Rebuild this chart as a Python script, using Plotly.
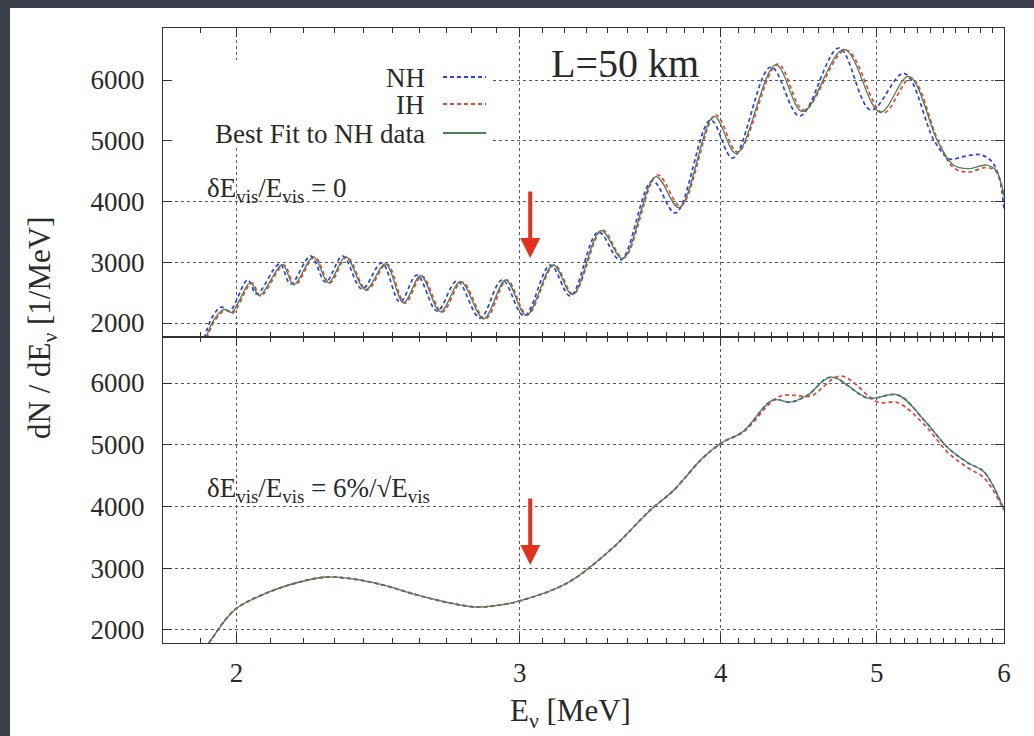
import math
import plotly.graph_objects as go

# ---------------- data ----------------
# Top panel: dE_vis/E_vis = 0
top_e_nh = [1.905, 1.930, 1.957, 1.980, 2.032, 2.058, 2.127, 2.161, 2.224, 2.272,
            2.328, 2.393, 2.462, 2.527, 2.589, 2.665, 2.742, 2.834, 2.925, 3.019,
            3.134, 3.225, 3.357, 3.465, 3.627, 3.749, 3.942, 4.069, 4.297, 4.479,
            4.737, 4.959, 5.200, 5.43, 5.55, 5.66, 5.80, 5.90, 5.96, 6.0]
top_n_nh = [1638, 2082, 2263, 2198, 2708, 2477, 2971, 2642, 3103, 2675,
            3103, 2560, 2988, 2346, 2790, 2198, 2691, 2082, 2708, 2115,
            2955, 2444, 3498, 3037, 4337, 3811, 5341, 4716, 6214, 5407,
            6527, 5506, 6110, 5000, 4700, 4740, 4770, 4650, 4380, 3880]

top_e_ih = [1.910, 1.938, 1.969, 1.989, 2.044, 2.070, 2.140, 2.174, 2.237, 2.285,
            2.342, 2.410, 2.480, 2.545, 2.608, 2.684, 2.762, 2.855, 2.946, 3.032,
            3.152, 3.239, 3.376, 3.480, 3.654, 3.776, 3.971, 4.098, 4.340, 4.505,
            4.785, 5.046, 5.252, 5.46, 5.58, 5.70, 5.85, 5.93, 6.0]
top_n_ih = [1638, 2033, 2214, 2165, 2658, 2444, 2955, 2625, 3086, 2658,
            3086, 2543, 2971, 2329, 2774, 2181, 2675, 2066, 2708, 2132,
            2955, 2477, 3531, 3070, 4436, 3926, 5424, 4815, 6263, 5506,
            6494, 5457, 6033, 5000, 4560, 4485, 4560, 4500, 4100]

top_e_bf = [1.908, 1.935, 1.965, 1.986, 2.040, 2.066, 2.136, 2.170, 2.233, 2.281,
            2.338, 2.405, 2.475, 2.540, 2.603, 2.678, 2.756, 2.849, 2.940, 3.028,
            3.147, 3.235, 3.370, 3.476, 3.645, 3.768, 3.962, 4.090, 4.328, 4.497,
            4.772, 5.025, 5.235, 5.455, 5.58, 5.70, 5.85, 5.93, 6.0]
top_n_bf = [1638, 2045, 2225, 2175, 2670, 2452, 2960, 2630, 3090, 2662,
            3090, 2548, 2975, 2334, 2778, 2185, 2680, 2070, 2708, 2128,
            2955, 2468, 3522, 3062, 4410, 3900, 5400, 4790, 6250, 5480,
            6505, 5470, 6060, 5000, 4600, 4540, 4600, 4520, 4080]

# Bottom panel: dE_vis/E_vis = 6%/sqrt(E_vis)
bot_e_nh = [1.91, 1.924, 1.994, 2.088, 2.189, 2.276, 2.362, 2.466, 2.589, 2.715,
            2.822, 2.917, 3.015, 3.211, 3.415, 3.617, 3.738, 3.903, 4.011, 4.133,
            4.309, 4.422, 4.531, 4.683, 4.938, 5.155, 5.351, 5.539, 5.700, 5.832, 6.0]
bot_n_nh = [1700, 1806, 2324, 2599, 2777, 2858, 2826, 2729, 2567, 2437,
            2372, 2405, 2486, 2761, 3295, 3943, 4260, 4800, 5040, 5220,
            5724, 5691, 5805, 6096, 5756, 5805, 5400, 4947, 4704, 4558, 3943]
bot_e_bf = bot_e_nh
bot_n_bf = [1700, 1806, 2324, 2599, 2777, 2858, 2826, 2729, 2567, 2437,
            2372, 2405, 2486, 2761, 3295, 3943, 4260, 4800, 5040, 5220,
            5724, 5691, 5805, 6096, 5756, 5805, 5400, 4947, 4704, 4558, 3943]
bot_e_ih = [1.91, 1.924, 1.994, 2.088, 2.189, 2.276, 2.362, 2.466, 2.589, 2.715,
            2.822, 2.917, 3.015, 3.211, 3.415, 3.617, 3.738, 3.903, 4.011, 4.133,
            4.30, 4.37, 4.44, 4.55, 4.75, 5.009, 5.155, 5.351, 5.539, 5.700, 5.832, 6.0]
bot_n_ih = [1700, 1806, 2324, 2599, 2777, 2858, 2826, 2729, 2567, 2437,
            2372, 2405, 2486, 2761, 3295, 3943, 4260, 4800, 5040, 5210,
            5690, 5800, 5800, 5790, 6112, 5690, 5680, 5330, 4870, 4623, 4461, 3943]

# red arrows (energy, tail value, tip value)
arrow_e = 3.045
arrow_top = (4189, 3070)
arrow_bot = (4153, 3052)

x_range = [1.8, 6.0]
y_range_top = [1770, 6856]
y_range_bot = [1789, 6745]

legend_names = ["NH", "IH", "Best Fit to NH data"]

# ---------------- styling ----------------
W, H = 1034, 736
FONT = "Liberation Serif, Times New Roman, serif"
C_NH = "#2f3fd8"
C_IH = "#e0453c"
C_BF = "#4f8059"
DASH = "4px,3px"
INK = "#2a2a2a"
SLIDE = "#3a3e48"

X_DOM = [163 / W, 1004 / W]
TOP_DOM = [1 - 337 / H, 1 - 28 / H]
BOT_DOM = [1 - 643 / H, 1 - 337 / H]

fig = go.Figure()

def add(e, n, color, dash, width, xa, ya):
    fig.add_trace(go.Scatter(
        x=e, y=n, mode="lines", xaxis=xa, yaxis=ya, showlegend=False,
        line=dict(color=color, dash=dash, width=width, shape="spline", smoothing=1.0),
        hoverinfo="skip"))

add(top_e_nh, top_n_nh, C_NH, DASH, 1.7, "x", "y")
add(top_e_ih, top_n_ih, C_IH, DASH, 1.7, "x", "y")
add(top_e_bf, top_n_bf, C_BF, "solid", 1.3, "x", "y")
add(bot_e_nh, bot_n_nh, C_NH, DASH, 1.7, "x2", "y2")
add(bot_e_ih, bot_n_ih, C_IH, DASH, 1.7, "x2", "y2")
add(bot_e_bf, bot_n_bf, C_BF, "solid", 1.3, "x2", "y2")

axis_common = dict(
    automargin=False,
    showline=True, linecolor="#333", linewidth=1.2, mirror="allticks",
    ticks="inside", tickcolor="#333", tickwidth=1.2, ticklen=9,
    showgrid=True, gridcolor="#5a5a5a", griddash="dot", gridwidth=1.2,
    zeroline=False, tickfont=dict(family=FONT, size=27, color=INK),
)
xlog = dict(
    type="log", range=[math.log10(x_range[0]), math.log10(x_range[1])],
    domain=X_DOM, tickmode="linear", tick0=0, dtick="L1",
    minor=dict(tickmode="linear", tick0=0, dtick="L0.1", ticks="inside",
               ticklen=5, tickcolor="#333", tickwidth=1, showgrid=False),
)
fig.update_layout(
    width=W, height=H, margin=dict(l=0, r=0, t=0, b=0, autoexpand=False),
    paper_bgcolor="white", plot_bgcolor="white",
    xaxis=dict(**axis_common, **xlog, anchor="y", showticklabels=False),
    xaxis2=dict(**axis_common, **xlog, anchor="y2", ticklabelstandoff=5),
    yaxis=dict(**axis_common, domain=TOP_DOM, anchor="x", range=y_range_top,
               tickmode="linear", tick0=0, dtick=1000, ticklabelstandoff=12),
    yaxis2=dict(**axis_common, domain=BOT_DOM, anchor="x2", range=y_range_bot,
                tickmode="linear", tick0=0, dtick=1000, ticklabelstandoff=12),
)

shapes = [
    # dark slide border (left and top) around the white image
    dict(type="rect", xref="paper", yref="paper", x0=0, x1=10 / W, y0=0, y1=1,
         fillcolor=SLIDE, line=dict(width=0), layer="below"),
    dict(type="rect", xref="paper", yref="paper", x0=0, x1=1, y0=1 - 8 / H, y1=1,
         fillcolor=SLIDE, line=dict(width=0), layer="below"),
    # legend box hiding the grid (starts after the inward ticks)
    dict(type="rect", xref="paper", yref="paper", x0=173 / W, x1=492 / W,
         y0=1 - 147 / H, y1=1 - 60 / H, fillcolor="white", line=dict(width=0),
         layer="above"),
]
legend_rows = [(77, C_NH, DASH), (104, C_IH, DASH), (133, C_BF, "solid")]
for (py, col, dsh) in legend_rows:
    shapes.append(dict(type="line", xref="paper", yref="paper",
                       x0=443 / W, x1=486 / W, y0=1 - py / H, y1=1 - py / H,
                       line=dict(color=col, width=2, dash=dsh), layer="above"))
fig.update_layout(shapes=shapes)

ann = []
for name, (py, _, _) in zip(legend_names, legend_rows):
    ann.append(dict(text=name, xref="paper", yref="paper", x=427 / W, y=1 - (py + 1) / H,
                    xanchor="right", yanchor="middle", showarrow=False,
                    font=dict(family=FONT, size=27, color=INK)))
ann.append(dict(text="L=50 km", xref="paper", yref="paper", x=625 / W, y=1 - 64 / H,
                xanchor="center", yanchor="middle", showarrow=False,
                font=dict(family=FONT, size=40, color=INK)))
ann.append(dict(text="δE<sub>vis</sub>/E<sub>vis</sub> = 0", xref="paper", yref="paper",
                x=205 / W, y=1 - 190 / H, xanchor="left", yanchor="middle", showarrow=False,
                font=dict(family=FONT, size=27, color=INK)))
ann.append(dict(text="δE<sub>vis</sub>/E<sub>vis</sub> = 6%/√E<sub>vis</sub>", xref="paper",
                yref="paper", x=205 / W, y=1 - 490 / H, xanchor="left", yanchor="middle",
                showarrow=False, font=dict(family=FONT, size=27, color=INK)))
ann.append(dict(text="dN / dE<sub>ν</sub> [1/MeV]", xref="paper", yref="paper",
                x=42 / W, y=1 - 328 / H, xanchor="center", yanchor="middle",
                textangle=-90, showarrow=False, font=dict(family=FONT, size=31, color=INK)))
ann.append(dict(text="E<sub>ν</sub> [MeV]", xref="paper", yref="paper",
                x=570 / W, y=1 - 713 / H, xanchor="center", yanchor="middle",
                showarrow=False, font=dict(family=FONT, size=31, color=INK)))
for xa, ya, (tail, tip) in [("x", "y", arrow_top), ("x2", "y2", arrow_bot)]:
    lx = math.log10(arrow_e)
    ann.append(dict(text="", xref=xa, yref=ya, x=lx, y=tip, axref=xa, ayref=ya,
                    ax=lx, ay=tail, showarrow=True, arrowhead=2, arrowsize=1.0,
                    arrowwidth=4, arrowcolor="#e0321f", standoff=0))
fig.update_layout(annotations=ann)

fig.write_html("out.html")
